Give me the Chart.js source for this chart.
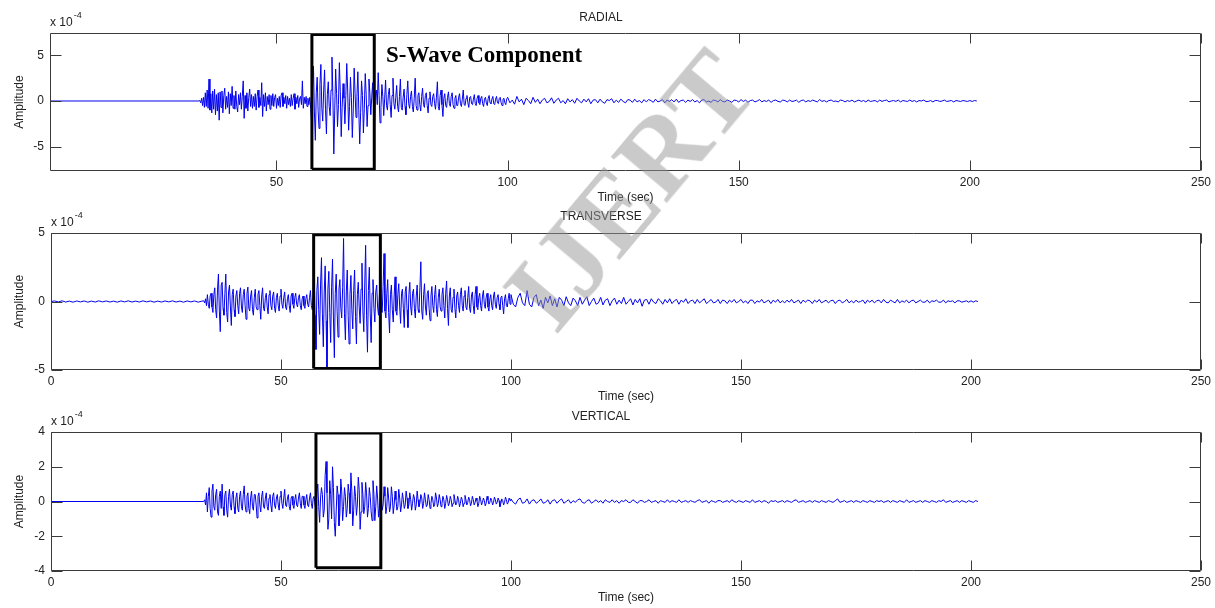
<!DOCTYPE html>
<html>
<head>
<meta charset="utf-8">
<script src="https://cdn.jsdelivr.net/npm/chart.js@4.4.0/dist/chart.umd.min.js"></script>
<style>
  html, body { margin: 0; padding: 0; background: #fff; }
  #page { position: relative; width: 1215px; height: 608px; overflow: hidden; }
  .panel { position: absolute; left: 0; width: 1215px; }
  .panel canvas { display: block; }
  #swave { position: absolute; left: 386px; top: 44px; font: bold 23px/22px 'Liberation Serif', 'Times New Roman', serif; color: #000; white-space: nowrap; }
  #mark { position: absolute; left: 630px; top: 190px; transform: translate(-50%, -50%) rotate(-50deg);
          font: bold 110px/1 'Liberation Serif', 'Times New Roman', serif; color: rgba(150, 150, 150, 0.5);
          white-space: nowrap; pointer-events: none; }
</style>
</head>
<body>
<div id="page">
  <div class="panel" style="top:0px"><canvas id="radial" width="1215" height="206"></canvas></div>
  <div class="panel" style="top:200px"><canvas id="transverse" width="1215" height="205"></canvas></div>
  <div class="panel" style="top:400px"><canvas id="vertical" width="1215" height="206"></canvas></div>
  <div id="swave">S-Wave Component</div>
  <div id="mark">IJERT</div>
</div>
<script>
// amplitudes are in units of 1e-4
// sampling: pre-event part, then 0.2 s steps from 33.2 s, then 0.5 s steps from 100 s
const earlyStart = 33.2, earlyStep = 0.2;
const lateStart = 100, lateStep = 0.5;

const xTicksRadial = [50, 100, 150, 200, 250];
const xTicksOther = [0, 50, 100, 150, 200, 250];
const yTicksRadial = [-5, 0, 5];
const yTicksTransverse = [-5, 0, 5];
const yTicksVertical = [-4, -2, 0, 2, 4];

// S-wave windows (time start/end, amplitude top/bottom) for radial, transverse, vertical
const sWaveStart = [57.66, 57.1, 57.6];
const sWaveEnd = [71.15, 71.6, 71.7];
const sWaveTop = [7.28, 4.88, 3.94];
const sWaveBottom = [-7.48, -4.89, -3.81];

const radialPreStart = 1, radialPreStep = 1;
const radialPre = [0];
const radialEarly = [
  0, 0.05, -0.2, 0.3, -0.5, 0.4, -0.7, 0.9, -0.6, 1.2, -0.8, 2.4, -1.0, 0.8, -1.3, 1.1, -0.9, 1.3, -1.5, 0.7,
  -1.1, 0.9, -2.1, 1.0, -0.7, 1.1, -1.3, 0.6, 1.4, -0.9, 0.5, -0.7, 1.0, -1.4, 0.8, -0.5, 1.6, -0.8, 0.6, -0.9,
  1.1, -0.6, -1.2, 0.7, -0.4, 0.9, -0.9, 0.5, 2.2, -1.9, 0.6, -0.8, 0.9, -1.1, 0.4, 1.3, -0.6, 0.7, -0.8, 0.5,
  -0.6, 0.8, -1.0, 0.5, 1.2, -0.7, 0.4, -0.5, 2.0, -1.7, 0.7, -0.6, 0.9, -1.1, 0.5, -0.4, 0.7, -0.9, 0.6, -0.5,
  0.8, -0.6, 0.4, 0.7, -0.8, 0.3, -0.5, 0.5, -0.7, 0.6, 0.9, -0.6, 0.4, -0.3, 0.6, -0.8, 0.5, -0.4, 0.3, -0.6,
  0.7, -0.5, 0.3, 0.8, -0.9, 0.4, -0.3, 0.6, -0.7, 0.3, 0.5, -0.4, 2.2, -0.8, 0.4, -0.3, 0.5, -0.6, 0.3, -0.4,
  0.4, -0.8, -2.5, 1.5, 3.8, -1.2, -4.3, 0.9, 2.6, -1.0, -3.0, 1.8, 4.0, -0.8, -2.2, 1.1, 3.4, -0.9, -3.6, 0.7,
  2.1, -0.6, -1.6, 1.2, 4.8, 0.5, -5.8, -1.0, 3.5, 0.8, -2.8, -0.4, 4.2, 1.0, -3.9, -0.7, 1.9, 0.3, -2.5, 0.6,
  4.1, 1.2, -3.2, -0.6, 2.6, 0.4, -4.0, -1.1, 3.6, 0.8, -1.8, 0.5, 3.2, -0.9, -4.7, -1.3, 2.2, 0.6, -3.5, -0.8,
  3.0, 0.7, -2.8, -0.5, 2.4, 0.9, -1.5, 0.4, 2.0, -0.6, -2.6, 0.8, 1.2, -0.4, 3.1, 0.6, -2.4, -0.7, 1.8, 0.5,
  -1.6, 0.3, 2.3, -0.5, -1.0, 0.7, 1.4, -0.4, -1.8, 0.6, 2.5, -0.3, -0.9, 0.4, 1.7, -0.6, -1.2, 0.5, 2.4, -0.7,
  -1.0, 0.4, 1.3, -0.6, -1.5, 0.7, 2.2, -0.3, -0.8, 0.5, 1.1, -0.6, -1.2, 0.3, 2.5, -0.5, -1.0, 0.6, 0.9, -0.4,
  -1.1, 0.5, 1.4, -0.4, -0.7, 0.6, 0.9, -0.5, -1.3, 0.3, 1.0, -0.4, -0.6, 0.5, 0.8, -0.3, -0.9, 0.4, 2.1, -0.6,
  -1.0, 0.6, 1.2, -0.4, -1.7, 0.3, 0.8, -0.5, -0.7, 0.4, 1.0, -0.3, -0.6, 0.5, 0.9, -0.4, -0.8, 0.3, 0.6, -0.5,
  -0.5, 0.4, 0.8, -0.3, -0.6, 0.2, 1.2, -0.4, -0.5, 0.3, 0.6, -0.2, -0.7, 0.4, 0.5, -0.3, -0.4, 0.2, 0.7, -0.3,
  -0.5, 0.3, 0.6, -0.2, -0.4, 0.3, 0.5, -0.3, -0.6, 0.2, 0.4, -0.2, -0.5, 0.3, 0.6, -0.2, -0.3, 0.2, 0.5, -0.3,
  -0.4, 0.2, 0.5, -0.2, -0.3, 0.3, 0.4, -0.2, -0.5, 0.2, 0.3, -0.2, -0.4, 0.2
];
const radialLate = [
  0.4, -0.2, 0.1, -0.35, 0.5, -0.1, 0.2, -0.4, 0.3, 0.05, -0.3, 0.4, -0.15, 0.2, -0.3, 0.1, 0.3, -0.2, -0.05, 0.35,
  -0.25, 0.1, 0.3, -0.2, 0.05, -0.3, 0.25, -0.1, 0.15, -0.25, 0.3, 0.0, -0.2, 0.2, -0.1, 0.25, -0.3, 0.1, 0.15, -0.2,
  0.2, -0.1, -0.25, 0.15, 0.05, 0.25, -0.2, 0.1, -0.15, 0.2, -0.05, -0.2, 0.15, 0.1, -0.15, 0.2, -0.1, 0.05, -0.2, 0.15,
  -0.1, 0.15, 0.05, -0.15, 0.2, -0.1, 0.0, 0.15, -0.2, 0.1, -0.05, 0.15, -0.1, 0.2, -0.15, 0.05, 0.1, -0.15, 0.1, -0.05,
  0.15, -0.1, 0.05, -0.2, 0.1, 0.15, -0.1, 0.0, -0.15, 0.1, 0.05, -0.1, 0.15, -0.05, -0.1, 0.1, 0.0, -0.15, 0.1, 0.05,
  -0.1, 0.15, -0.05, 0.1, -0.15, 0.05, 0.1, -0.1, 0.0, 0.15, -0.1, 0.05, -0.05, 0.1, -0.15, 0.05, 0.1, -0.05, -0.1, 0.1,
  0.05, -0.1, 0.1, -0.05, 0.0, 0.1, -0.15, 0.05, 0.1, -0.1, 0.05, -0.05, 0.1, 0.0, -0.1, 0.15, -0.05, 0.05, -0.1, 0.05,
  0.1, -0.05, 0.0, -0.1, 0.1, 0.05, -0.1, 0.05, -0.05, 0.1, -0.1, 0.0, 0.1, -0.05, 0.05, -0.1, 0.1, -0.05, 0.0, 0.05,
  -0.1, 0.1, -0.05, 0.05, 0.1, -0.1, 0.0, 0.05, -0.05, 0.1, -0.1, 0.05, 0.0, -0.05, 0.1, -0.05, 0.05, -0.1, 0.05, 0.0,
  0.1, -0.05, -0.05, 0.05, -0.1, 0.05, 0.05, -0.05, 0.0, 0.1, -0.05, 0.0, 0.05, -0.1, 0.05, 0.0, -0.05, 0.05, 0.0, -0.05,
  0.05, -0.05, 0.05, 0
];

const transversePreStart = 0, transversePreStep = 0.8;
const transversePre = [
  0, 0.04, -0.03, 0.05, -0.04, 0.03, -0.05, 0.04, -0.03, 0.04,
  -0.05, 0.03, -0.04, 0.05, -0.03, 0.04, -0.04, 0.03, -0.05, 0.04,
  -0.03, 0.05, -0.04, 0.03, -0.04, 0.05, -0.03, 0.04, -0.05, 0.03,
  -0.04, 0.04, -0.03, 0.05, -0.04, 0.03, -0.05, 0.04, -0.03, 0.04,
  -0.05, 0.03
];
const transverseEarly = [
  0.05, -0.1, 0.2, -0.3, 0.5, -0.2, -0.5, 0.4, 0.6, -0.4, -0.8, 0.5, 1.0, -0.6, -1.2, 0.9, 2.0, -0.7, -2.2, 1.2,
  1.4, -0.5, -1.0, 0.6, 2.0, -0.8, -1.5, 0.7, 1.2, -0.4, -1.75, 0.5, 0.9, -0.6, -1.1, 0.4, 0.8, -0.3, -0.9, 0.6,
  1.0, -0.4, -0.8, 0.5, 0.9, -0.3, -1.3, 0.6, 1.05, -0.5, -0.7, 0.4, 0.8, -0.6, -1.0, 0.3, 0.9, -0.4, -0.6, 0.5,
  0.8, -0.3, -1.3, 0.4, 1.0, -0.5, -0.7, 0.3, 0.6, -0.4, -0.9, 0.5, 0.8, -0.3, -0.6, 0.4, 0.7, -0.5, -0.8, 0.3,
  0.6, -0.3, -0.7, 0.4, 0.9, -0.2, -0.5, 0.3, 0.7, -0.4, -0.6, 0.2, 0.5, -0.3, -0.8, 0.4, 0.6, -0.2, -0.5, 0.3,
  0.6, -0.2, -0.4, 0.3, 0.5, -0.3, -0.6, 0.2, 0.4, -0.3, -0.5, 0.2, 0.5, -0.2, -0.4, 0.3, 0.8, -0.3, -0.6, 0.4,
  2.4, -1.0, -3.5, 0.8, 1.8, -0.6, -2.4, 1.2, 3.2, -0.9, -3.3, 0.7, 2.6, -1.4, -4.8, 0.9, 2.2, -0.8, -3.0, 1.0,
  3.1, -1.2, -4.1, 0.6, 2.0, -0.7, -2.6, 0.9, 1.6, -0.5, -1.2, 1.0, 4.6, -0.9, -2.8, 0.7, 2.3, -1.0, -3.1, 0.5,
  1.9, -0.6, -2.0, 0.8, 2.3, -1.1, -3.1, 0.5, 1.4, -0.4, -1.6, 0.9, 2.8, -0.7, -2.2, 1.2, 4.1, -1.0, -3.7, 0.8,
  2.5, -0.9, -3.0, 0.6, 1.6, -0.5, -1.5, 0.7, 1.2, -0.4, -1.0, 0.5, 1.5, -0.6, -0.8, 1.1, 3.5, -0.7, -1.2, 0.6,
  1.6, -0.8, -2.3, 0.5, 1.2, -0.6, -1.5, 0.4, 1.8, -0.7, -1.0, 0.5, 1.3, -0.4, -1.6, 0.6, 0.9, -0.5, -1.9, 0.7,
  1.1, -0.6, -1.9, 0.5, 1.4, -0.4, -1.0, 0.6, 0.9, -0.5, -1.2, 0.4, 1.2, -0.6, -0.8, 1.0, 2.9, -0.7, -1.3, 0.5,
  1.3, -0.4, -1.0, 0.6, 0.8, -0.5, -1.4, 0.4, 1.1, -0.3, -0.8, 0.5, 1.2, -0.6, -1.1, 0.3, 0.9, -0.4, -0.7, 0.5,
  1.0, -0.3, -1.2, 0.6, 1.5, -0.5, -1.75, 0.4, 1.0, -0.6, -0.8, 0.3, 0.9, -0.5, -1.2, 0.4, 0.7, -0.3, -0.8, 0.5,
  1.0, -0.3, -0.7, 0.4, 0.8, -0.4, -0.6, 0.3, 1.1, -0.5, -0.8, 0.4, 0.7, -0.3, -0.9, 0.5, 1.1, -0.4, -0.6, 0.3,
  0.6, -0.3, -0.7, 0.4, 0.8, -0.2, -0.5, 0.3, 0.6, -0.4, -0.7, 0.2, 0.5, -0.3, -0.6, 0.4, 0.7, -0.2, -0.5, 0.3,
  0.5, -0.2, -0.6, 0.3, 0.4, -0.3, -0.9, 0.2, 0.5, -0.3, -0.4, 0.2, 0.6, -0.2
];
const transverseLate = [
  0.5, -0.2, -0.4, 0.3, 0.6, -0.1, -0.3, 0.8, -0.2, -0.4, 0.3, 0.5, -0.3, 0.1, -0.5, 0.3, -0.1, 0.4, -0.3, 0.2,
  -0.4, 0.3, 0.1, -0.3, 0.35, -0.1, -0.3, 0.25, 0.05, -0.3, 0.3, -0.2, 0.1, 0.35, -0.3, 0.0, 0.25, -0.2, -0.1, 0.3,
  -0.25, 0.1, 0.2, -0.3, 0.05, 0.25, -0.2, 0.1, -0.15, 0.3, -0.2, 0.0, 0.2, -0.25, 0.15, -0.1, 0.2, -0.35, 0.1, 0.15,
  -0.2, 0.2, -0.05, -0.15, 0.2, 0.05, -0.2, 0.15, -0.1, 0.2, -0.15, 0.05, 0.15, -0.2, 0.1, -0.05, 0.2, -0.15, 0.05, 0.1,
  -0.15, 0.15, -0.1, 0.05, 0.2, -0.15, 0.0, 0.15, -0.1, -0.05, 0.15, -0.15, 0.1, 0.05, -0.15, 0.1, -0.05, 0.15, -0.1, 0.0,
  0.15, -0.1, 0.05, -0.15, 0.1, 0.1, -0.15, 0.05, -0.05, 0.15, -0.1, 0.0, 0.1, -0.15, 0.1, -0.05, 0.15, -0.1, 0.05, -0.1,
  0.1, -0.05, 0.15, -0.1, 0.0, 0.1, -0.15, 0.1, -0.05, 0.1, 0.05, -0.15, 0.1, -0.05, 0.15, -0.1, 0.0, 0.1, -0.1, 0.05,
  0.1, -0.15, 0.05, 0.1, -0.1, 0.0, 0.15, -0.1, 0.05, -0.1, 0.1, -0.05, 0.0, 0.1, -0.15, 0.1, -0.05, 0.1, -0.1, 0.05,
  0.1, -0.1, 0.15, -0.05, -0.1, 0.1, 0.0, -0.1, 0.15, -0.1, 0.05, -0.05, 0.1, -0.1, 0.05, 0.1, -0.1, 0.0, 0.1, -0.05,
  -0.05, 0.1, -0.1, 0.05, 0.0, 0.1, -0.05, -0.05, 0.1, -0.1, 0.05, 0.0, 0.05, -0.1, 0.05, 0.05, -0.05, 0.0, 0.05, -0.05,
  0.05, -0.05, 0.05, 0
];

const verticalPreStart = 0, verticalPreStep = 1;
const verticalPre = [0];
const verticalEarly = [
  0, 0.1, -0.2, 0.5, -0.6, 0.3, 0.8, -0.4, -0.9, 0.6, 1.0, -0.3, -0.5, 0.4, 0.7, -0.6, -0.8, 0.3, 0.6, -0.4,
  1.0, -0.3, -0.8, 0.4, 0.6, -0.5, -0.9, 0.3, 0.7, -0.2, -0.5, 0.4, 0.6, -0.3, -0.7, 0.2, 0.5, -0.4, -0.6, 0.3,
  0.6, -0.3, -0.5, 0.4, 0.9, -0.2, -0.6, 0.3, 0.5, -0.4, -0.7, 0.2, 0.6, -0.3, -0.5, 0.4, 0.4, -0.2, -0.95, 0.3,
  0.5, -0.2, -0.6, 0.3, 0.6, -0.3, -0.4, 0.2, 0.5, -0.3, -0.5, 0.2, 0.4, -0.2, -0.6, 0.3, 0.5, -0.2, -0.4, 0.2,
  0.4, -0.2, -0.5, 0.3, 0.6, -0.1, -0.4, 0.2, 0.7, -0.2, -0.3, 0.2, 0.4, -0.3, -0.5, 0.2, 0.3, -0.2, -0.4, 0.1,
  0.4, -0.2, -0.3, 0.2, 0.5, -0.1, -0.4, 0.3, 0.3, -0.2, -0.4, 0.1, 0.4, -0.2, -0.3, 0.2, 0.5, -0.1, -0.4, 0.2,
  0.3, -0.2, -0.5, 0.6, 1.0, -0.3, -1.2, 0.2, 0.8, 0.4, -0.9, -0.5, 1.5, 2.3, 0.5, -1.6, -1.0, 1.2, 0.4, -1.0,
  2.0, 0.8, -1.2, -2.0, -0.6, 0.9, 0.4, -1.4, -0.7, 1.3, 0.6, -1.1, -0.3, 0.8, 0.3, -0.9, -0.4, 1.0, 0.5, -0.7,
  1.65, 0.6, -1.4, -0.5, 0.9, 0.3, -0.8, -0.2, 1.4, 0.7, -1.6, -0.6, 1.1, 0.4, -0.7, -0.3, 1.1, 0.5, -0.9, -0.4,
  0.8, 0.3, -0.6, -1.1, 1.2, 0.4, -1.1, -0.3, 0.9, 0.2, -0.9, -0.4, 0.6, 0.2, -0.5, -0.2, 0.85, 0.3, -0.7, -0.3,
  0.8, 0.2, -0.6, -0.3, 0.85, 0.3, -0.7, -0.2, 0.6, 0.1, -0.5, -0.3, 0.7, 0.2, -0.6, -0.2, 0.5, 0.1, -0.4, -0.2,
  0.6, 0.2, -0.4, -0.2, 0.5, 0.1, -0.5, -0.1, 0.4, 0.2, -0.5, -0.2, 0.6, 0.1, -0.3, -0.1, 0.4, 0.2, -0.4, -0.1,
  0.5, 0.1, -0.3, -0.2, 0.4, 0.1, -0.4, -0.1, 0.3, 0.1, -0.3, -0.2, 0.5, 0.2, -0.3, -0.1, 0.4, 0.1, -0.3, -0.1,
  0.3, 0.1, -0.4, -0.1, 0.35, 0.1, -0.25, -0.1, 0.3, 0.1, -0.3, -0.1, 0.4, 0.1, -0.2, -0.1, 0.3, 0.1, -0.3, -0.1,
  0.25, 0.1, -0.3, -0.1, 0.35, 0.1, -0.2, -0.05, 0.25, 0.1, -0.25, -0.1, 0.3, 0.1, -0.2, -0.05, 0.2, 0.05, -0.3, -0.1,
  0.3, 0.1, -0.2, -0.05, 0.2, 0.05, -0.25, -0.1, 0.3, 0.1, -0.15, -0.05, 0.2, 0.05, -0.2, -0.05, 0.25, 0.1, -0.15, -0.05,
  0.2, 0.05, -0.3, -0.1, 0.15, 0.05, -0.2, -0.05, 0.25, 0.1, -0.15, -0.05, 0.2, 0.05
];
const verticalLate = [
  0.15, -0.05, -0.15, 0.1, 0.2, -0.1, -0.05, 0.15, -0.15, 0.05, 0.1, -0.1, 0.0, 0.15, -0.1, -0.05, 0.1, -0.15, 0.05, 0.1,
  -0.1, 0.05, 0.15, -0.1, 0.0, 0.1, -0.1, 0.05, -0.05, 0.1, 0.15, -0.05, -0.1, 0.05, 0.1, -0.1, 0.0, 0.1, -0.05, 0.05,
  -0.1, 0.1, 0.0, -0.05, 0.1, -0.05, 0.05, -0.1, 0.05, 0.0, 0.1, -0.05, -0.05, 0.1, 0.0, -0.1, 0.05, 0.05, -0.05, 0.0,
  0.1, -0.05, 0.0, 0.05, -0.1, 0.05, 0.0, -0.05, 0.1, -0.05, 0.05, 0.0, -0.05, 0.1, -0.05, 0.0, 0.05, -0.05, 0.05, 0.0,
  -0.05, 0.05, 0.1, -0.05, 0.0, 0.05, -0.1, 0.05, 0.0, -0.05, 0.05, 0.05, -0.05, 0.0, 0.05, -0.05, 0.1, 0.0, -0.05, 0.05,
  0.0, -0.05, 0.05, 0.0, -0.05, 0.1, -0.05, 0.0, 0.05, -0.05, 0.05, 0.0, -0.1, 0.05, 0.0, 0.05, -0.05, 0.0, 0.05, -0.05,
  0.05, 0.0, -0.05, 0.05, 0.1, -0.05, 0.0, 0.05, -0.05, 0.0, 0.05, -0.05, 0.05, 0.0, -0.05, 0.05, 0.0, -0.05, 0.05, 0.0,
  -0.05, 0.05, 0.15, -0.05, 0.0, 0.05, -0.05, 0.0, 0.05, -0.05, 0.05, 0.0, -0.05, 0.05, 0.0, -0.05, 0.05, 0.0, -0.05, 0.05,
  0.0, 0.05, -0.05, 0.0, 0.05, -0.05, 0.05, 0.0, -0.05, 0.05, 0.0, -0.05, 0.1, -0.05, 0.0, 0.05, -0.05, 0.0, 0.05, -0.05,
  0.05, 0.0, -0.05, 0.05, 0.0, -0.05, 0.05, 0.0, 0.1, -0.05, 0.0, 0.05, -0.05, 0.0, 0.05, -0.05, 0.05, 0.0, -0.05, 0.05,
  0.0, -0.05, 0.05, 0
];

//turn the sampled amplitudes into x/y points
function buildTrace(pre, preStart, preStep, early, late) {
  const pts = pre.map((v, i) => ({ x: preStart + i * preStep, y: v }));
  early.forEach((v, i) => pts.push({ x: earlyStart + i * earlyStep, y: v }));
  late.forEach((v, i) => pts.push({ x: lateStart + i * lateStep, y: v }));
  return pts;
}

function buildBox(k) {
  return [
    { x: sWaveStart[k], y: sWaveBottom[k] },
    { x: sWaveStart[k], y: sWaveTop[k] },
    { x: sWaveEnd[k], y: sWaveTop[k] },
    { x: sWaveEnd[k], y: sWaveBottom[k] },
    { x: sWaveStart[k], y: sWaveBottom[k] }
  ];
}

Chart.defaults.font.family = "'Liberation Sans', Arial, sans-serif";
Chart.defaults.font.size = 12;
Chart.defaults.color = '#222';

//matlab style box with inward ticks and the x 10^-4 label
const matlabFrame = {
  id: 'matlabFrame',
  afterDraw(chart) {
    const { ctx, chartArea: a, scales: { x, y } } = chart;
    const L = Math.round(a.left) + 0.5, R = Math.round(a.right) - 0.5;
    const T = Math.round(a.top) + 0.5, B = Math.round(a.bottom) - 0.5;
    ctx.save();
    ctx.strokeStyle = '#3a3a3a';
    ctx.lineWidth = 1;
    ctx.beginPath();
    x.ticks.forEach(t => {
      const px = Math.round(x.getPixelForValue(t.value)) + 0.5;
      ctx.moveTo(px, B); ctx.lineTo(px, B - 10);
      ctx.moveTo(px, T); ctx.lineTo(px, T + 10);
    });
    y.ticks.forEach(t => {
      const py = Math.round(y.getPixelForValue(t.value)) + 0.5;
      ctx.moveTo(L, py); ctx.lineTo(L + 11, py);
      ctx.moveTo(R, py); ctx.lineTo(R - 11, py);
    });
    ctx.rect(L, T, R - L, B - T);
    ctx.stroke();

    ctx.fillStyle = '#222';
    ctx.textBaseline = 'middle';
    ctx.textAlign = 'left';
    ctx.font = "12px 'Liberation Sans', Arial, sans-serif";
    ctx.fillText('x 10', a.left, a.top - 10.5);
    const w = ctx.measureText('x 10').width;
    ctx.font = "9px 'Liberation Sans', Arial, sans-serif";
    ctx.fillText('-4', a.left + w + 1, a.top - 17);
    ctx.restore();
  }
};

function makePanel(id, k, title, points, xMin, yMin, yMax, xTicks, yTicks, yAxisWidth, titlePad) {
  return new Chart(document.getElementById(id), {
    type: 'line',
    data: {
      datasets: [
        { data: buildBox(k), borderColor: '#000', borderWidth: 3, pointRadius: 0, tension: 0, order: 0, borderJoinStyle: 'miter' },
        { data: points, borderColor: '#0000ee', borderWidth: 1, pointRadius: 0, tension: 0, order: 1 }
      ]
    },
    options: {
      responsive: false,
      animation: false,
      events: [],
      layout: { padding: { left: 0, right: 13, top: 0, bottom: 0 } },
      plugins: {
        legend: { display: false },
        tooltip: { enabled: false },
        title: {
          display: true,
          text: title,
          color: '#222',
          font: { size: 12, weight: 'normal' },
          padding: { top: titlePad[0], bottom: titlePad[1] }
        }
      },
      scales: {
        x: {
          type: 'linear',
          min: xMin,
          max: 250,
          grid: { display: false, drawTicks: false },
          border: { display: false },
          afterBuildTicks: s => { s.ticks = xTicks.map(v => ({ value: v })); },
          afterFit: s => { s.height = 35; },
          ticks: { padding: 4, maxRotation: 0, autoSkip: false, color: '#222' },
          title: { display: true, text: 'Time (sec)', color: '#222', padding: { top: 0, bottom: 0.8 } }
        },
        y: {
          type: 'linear',
          min: yMin,
          max: yMax,
          grid: { display: false, drawTicks: false },
          border: { display: false },
          afterBuildTicks: s => { s.ticks = yTicks.map(v => ({ value: v })); },
          afterFit: s => { s.width = yAxisWidth; },
          ticks: { padding: 6, color: '#222' },
          title: { display: true, text: 'Amplitude', color: '#222', padding: { top: 12, bottom: 0 } }
        }
      }
    },
    plugins: [matlabFrame]
  });
}

makePanel('radial', 0, 'RADIAL',
  buildTrace(radialPre, radialPreStart, radialPreStep, radialEarly, radialLate),
  1, -7.66, 7.44, xTicksRadial, yTicksRadial, 50, [10.8, 7.8]);
makePanel('transverse', 1, 'TRANSVERSE',
  buildTrace(transversePre, transversePreStart, transversePreStep, transverseEarly, transverseLate),
  0, -5, 5, xTicksOther, yTicksTransverse, 51, [9.8, 8.8]);
makePanel('vertical', 2, 'VERTICAL',
  buildTrace(verticalPre, verticalPreStart, verticalPreStep, verticalEarly, verticalLate),
  0, -4, 4, xTicksOther, yTicksVertical, 51, [9.8, 7.8]);
</script>
</body>
</html>
